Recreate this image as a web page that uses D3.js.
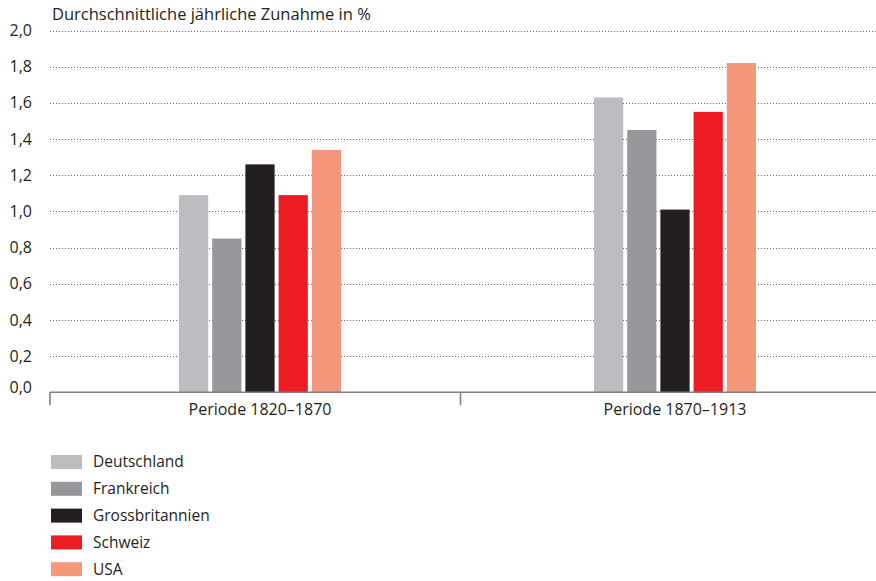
<!DOCTYPE html>
<html>
<head>
<meta charset="utf-8">
<script src="https://cdn.jsdelivr.net/npm/d3@7"></script>
<style>
  body { margin: 0; background: #fff; }
  svg text { font-family: "Open Sans", "Noto Sans", sans-serif; fill: #231f20; }
</style>
</head>
<body>
<svg id="chart" width="876" height="581"></svg>
<script>
// data
var periods = ['Periode 1820–1870', 'Periode 1870–1913'];
var countries = ['Deutschland', 'Frankreich', 'Grossbritannien', 'Schweiz', 'USA'];
var colors = ['#bcbdc1', '#96979b', '#231f20', '#ed1c24', '#f5977a'];
var values1820 = [1.09, 0.85, 1.26, 1.09, 1.34];
var values1870 = [1.63, 1.45, 1.01, 1.55, 1.82];
var yTicks = [0, 0.2, 0.4, 0.6, 0.8, 1.0, 1.2, 1.4, 1.6, 1.8, 2.0];

var svg = d3.select('#chart');

var rows = periods.map(function (p, i) {
  return { period: p, values: i == 0 ? values1820 : values1870 };
});

var y = d3.scaleLinear().domain([0, 2]).range([392.3, 30.5]);

var x0 = d3.scaleBand().domain(periods).range([52.5, 882.5]);
var x1 = d3.scaleBand().domain(countries).range([0, 162]).paddingInner(0.12);
var color = d3.scaleOrdinal().domain(countries).range(colors);

// title
svg.append('text')
  .attr('x', 52)
  .attr('y', 20)
  .style('font-size', '16.5px')
  .text('Durchschnittliche jährliche Zunahme in %');

// gridlines
svg.append('g')
  .selectAll('line')
  .data(yTicks.filter(d => d > 0))
  .enter().append('line')
  .attr('x1', 50)
  .attr('x2', 876)
  .attr('y1', d => Math.round(y(d)) + 0.5)
  .attr('y2', d => Math.round(y(d)) + 0.5)
  .style('stroke', '#666')
  .style('stroke-width', 1)
  .style('stroke-dasharray', '1,2');

// y labels
svg.append('g')
  .selectAll('text')
  .data(yTicks)
  .enter().append('text')
  .attr('x', 32)
  .attr('y', d => d == 0 ? y(d) - 5 : y(d))
  .attr('dy', '0.35em')
  .attr('text-anchor', 'end')
  .style('font-size', '16px')
  .text(d => d3.format('.1f')(d).replace('.', ','));

// bars
var groups = svg.append('g')
  .selectAll('g')
  .data(rows)
  .enter().append('g')
  .attr('transform', d => `translate(${x0(d.period) + x0.bandwidth() / 2 - 81},0)`);

groups.selectAll('rect')
  .data(d => d.values.map((v, i) => ({ country: countries[i], value: v })))
  .enter().append('rect')
  .attr('x', d => x1(d.country))
  .attr('width', x1.bandwidth())
  .attr('y', d => y(d.value))
  .attr('height', d => y(0) - y(d.value))
  .style('fill', d => color(d.country));

// x axis
var axis = svg.append('g');
axis.append('line')
  .attr('x1', 50)
  .attr('x2', 876)
  .attr('y1', y(0))
  .attr('y2', y(0))
  .style('stroke', '#808080')
  .style('stroke-width', 1.6);

axis.selectAll('.tick')
  .data([50, x0(periods[1]) - 7])
  .enter().append('line')
  .attr('x1', d => d)
  .attr('x2', d => d)
  .attr('y1', y(0))
  .attr('y2', y(0) + 13)
  .style('stroke', '#808080')
  .style('stroke-width', 1.6);

axis.selectAll('text')
  .data(periods)
  .enter().append('text')
  .attr('x', d => x0(d) + x0.bandwidth() / 2)
  .attr('y', 415)
  .attr('text-anchor', 'middle')
  .style('font-size', '16px')
  .text(d => d);

// legend
var legend = svg.append('g')
  .selectAll('g')
  .data(countries)
  .enter().append('g')
  .attr('transform', (d, i) => `translate(51,${455 + i * 26.8})`);

legend.append('rect')
  .attr('width', 31)
  .attr('height', 14)
  .style('fill', d => color(d));

legend.append('text')
  .attr('x', 42)
  .attr('y', 7)
  .attr('dy', '0.35em')
  .style('font-size', '15.5px')
  .text(d => d);
</script>
</body>
</html>
